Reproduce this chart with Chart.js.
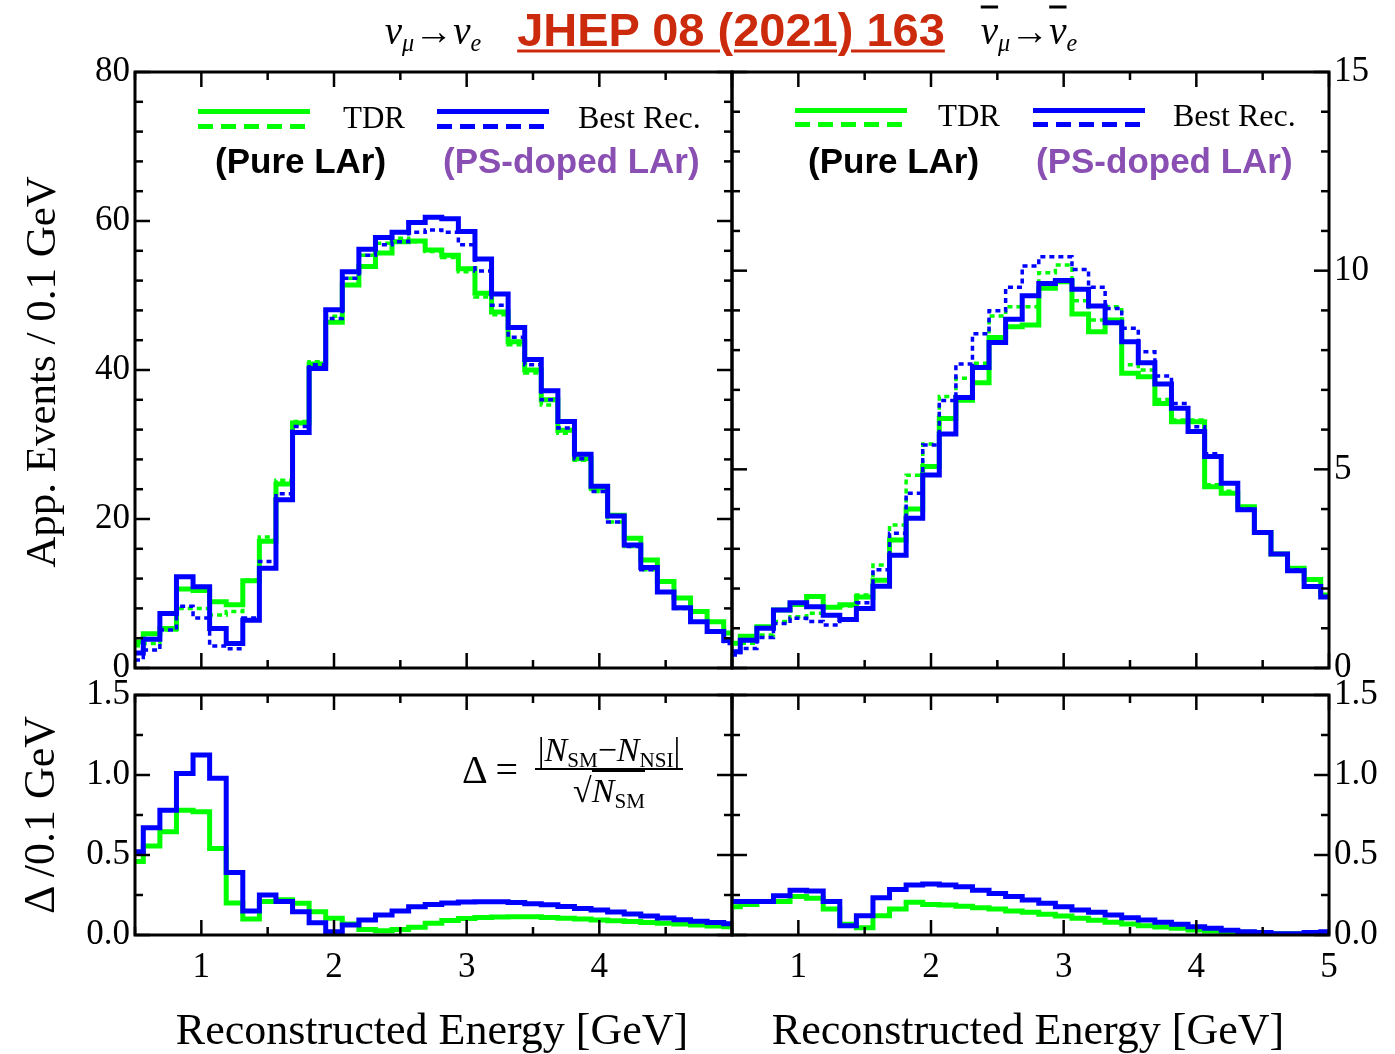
<!DOCTYPE html>
<html>
<head>
<meta charset="utf-8">
<script src="https://cdn.jsdelivr.net/npm/chart.js@4.4.1/dist/chart.umd.min.js"></script>
<style>
  body { margin: 0; background: #fff; }
  #wrap { position: relative; width: 1395px; height: 1054px; overflow: hidden; font-family: 'Liberation Serif', serif; color: #000; }
  canvas { position: absolute; left: 0; top: 0; }
  .t { position: absolute; white-space: nowrap; line-height: 1; }
  .mid { transform: translateY(-50%); }
  .ctr { transform: translate(-50%, -50%); }
  .rot { transform: translate(-50%, -50%) rotate(-90deg); }
  .bold { font-family: 'Liberation Sans', Arial, sans-serif; font-weight: bold; }
  .line { position: absolute; height: 5px; width: 112px; }
  sub { font-size: 0.62em; vertical-align: -0.3em; line-height: 0; }
</style>
</head>
<body>
<div id="wrap">
  <canvas id="nuTop" width="1395" height="1054"></canvas>
  <canvas id="nbTop" width="1395" height="1054"></canvas>
  <canvas id="nuBot" width="1395" height="1054"></canvas>
  <canvas id="nbBot" width="1395" height="1054"></canvas>

  <!-- header -->
  <div class="t ctr" style="left:433px;top:30px;font-size:39px;font-style:italic;">ν<sub>μ</sub>→ν<sub>e</sub></div>
  <div class="t ctr bold" style="left:731px;top:29px;font-size:47px;color:#cc2a0c;text-decoration:underline;text-decoration-thickness:3px;text-underline-offset:4px;">JHEP 08 (2021) 163</div>
  <div class="t ctr" style="left:1029px;top:30px;font-size:39px;font-style:italic;"><span style="text-decoration:overline">ν</span><sub>μ</sub>→<span style="text-decoration:overline">ν</span><sub>e</sub></div>

  <!-- legend, left -->
  <div class="line" style="left:198px;top:109px;background:#00ff00;"></div>
  <div class="line" style="left:198px;top:124px;background:repeating-linear-gradient(to right,#00ff00 0 15px,transparent 15px 23px);"></div>
  <div class="line" style="left:437px;top:109px;background:#0000ff;"></div>
  <div class="line" style="left:437px;top:124px;background:repeating-linear-gradient(to right,#0000ff 0 15px,transparent 15px 23px);"></div>
  <div class="t mid" style="left:343px;top:117px;font-size:31px;">TDR</div>
  <div class="t mid" style="left:578px;top:117px;font-size:32px;">Best Rec.</div>
  <div class="t mid bold" style="left:215px;top:160px;font-size:35px;">(Pure LAr)</div>
  <div class="t mid bold" style="left:443px;top:160px;font-size:35px;color:#8a4fb2;">(PS-doped LAr)</div>

  <!-- legend, right -->
  <div class="line" style="left:795px;top:108px;background:#00ff00;"></div>
  <div class="line" style="left:795px;top:122px;background:repeating-linear-gradient(to right,#00ff00 0 15px,transparent 15px 23px);"></div>
  <div class="line" style="left:1033px;top:108px;background:#0000ff;"></div>
  <div class="line" style="left:1033px;top:122px;background:repeating-linear-gradient(to right,#0000ff 0 15px,transparent 15px 23px);"></div>
  <div class="t mid" style="left:938px;top:115px;font-size:31px;">TDR</div>
  <div class="t mid" style="left:1173px;top:115px;font-size:32px;">Best Rec.</div>
  <div class="t mid bold" style="left:808px;top:160px;font-size:35px;">(Pure LAr)</div>
  <div class="t mid bold" style="left:1036px;top:160px;font-size:35px;color:#8a4fb2;">(PS-doped LAr)</div>

  <!-- formula -->
  <div class="t mid" style="left:462px;top:770px;font-size:40px;">Δ =</div>
  <div class="t" style="left:535px;top:733px;width:148px;font-size:34px;text-align:center;">
    <div style="padding-bottom:1px;">|<i>N</i><sub>SM</sub>−<i>N</i><sub>NSI</sub>|</div>
    <div style="border-top:2px solid #000;"></div>
    <div style="padding-top:4px;">√<span style="border-top:2px solid #000;"><i>N</i><sub>SM</sub></span></div>
  </div>

  <!-- axis titles -->
  <div class="t rot" style="left:40px;top:372px;font-size:43px;">App. Events / 0.1 GeV</div>
  <div class="t rot" style="left:40px;top:815px;font-size:44px;">Δ /0.1 GeV</div>
  <div class="t ctr" style="left:432px;top:1030px;font-size:44px;">Reconstructed Energy [GeV]</div>
  <div class="t ctr" style="left:1028px;top:1030px;font-size:44px;">Reconstructed Energy [GeV]</div>
</div>

<script>
// bin centres (GeV)
const energy = [0.5, 0.625, 0.75, 0.875, 1.0, 1.125, 1.25, 1.375, 1.5, 1.625,
  1.75, 1.875, 2.0, 2.125, 2.25, 2.375, 2.5, 2.625, 2.75, 2.875,
  3.0, 3.125, 3.25, 3.375, 3.5, 3.625, 3.75, 3.875, 4.0, 4.125,
  4.25, 4.375, 4.5, 4.625, 4.75, 4.875, 5.0];

// nu_mu -> nu_e, events / 0.1 GeV
const nuTdrSolid = [3.5, 4.6, 5.3, 10.6, 10.4, 8.9, 8.5, 11.7, 17.0, 24.7,
  32.9, 40.8, 46.4, 51.4, 53.9, 55.7, 57.2, 57.3, 56.1, 55.4,
  53.6, 50.3, 47.8, 43.8, 40.0, 36.0, 31.9, 28.1, 24.2, 20.5,
  17.4, 14.5, 11.6, 9.4, 7.6, 6.2, 4.7];
const nuTdrDash = [3.0, 3.3, 5.1, 8.0, 8.0, 7.1, 7.6, 11.8, 17.6, 25.2,
  33.1, 41.1, 47.2, 52.3, 55.4, 57.0, 57.7, 57.2, 55.9, 55.1,
  53.2, 49.8, 47.4, 43.4, 39.6, 35.3, 31.5, 27.9, 23.7, 19.6,
  16.3, 13.2, 10.2, 8.0, 6.2, 4.9, 3.8];
const nuBestSolid = [2.0, 3.85, 7.3, 12.25, 10.9, 5.3, 3.3, 6.4, 13.4, 22.6,
  31.6, 40.2, 48.1, 53.2, 56.2, 57.8, 58.5, 59.8, 60.5, 60.3,
  58.6, 54.9, 50.2, 45.7, 41.4, 37.2, 33.1, 28.7, 24.4, 20.4,
  16.5, 13.5, 10.2, 8.1, 6.2, 4.9, 3.7];
const nuBestDash = [1.07, 2.4, 5.1, 8.3, 6.7, 2.95, 2.6, 6.7, 14.3, 23.4,
  32.4, 40.7, 46.9, 52.3, 55.4, 56.8, 57.2, 58.5, 58.8, 58.5,
  56.8, 53.3, 48.7, 44.4, 40.7, 36.0, 32.2, 28.1, 23.7, 19.6,
  16.3, 13.2, 10.2, 8.0, 6.2, 4.9, 3.3];

// anti-nu_mu -> anti-nu_e
const nbTdrSolid = [0.62, 0.80, 1.04, 1.46, 1.6, 1.8, 1.53, 1.59, 1.79, 2.21,
  3.22, 4.0, 5.07, 6.28, 6.74, 7.18, 8.32, 8.59, 8.63, 9.56,
  9.72, 8.91, 8.46, 8.76, 7.42, 7.33, 6.66, 6.20, 6.20, 4.56,
  4.40, 4.06, 3.41, 2.87, 2.51, 2.23, 1.84];
const nbTdrDash = [0.62, 0.62, 0.83, 1.17, 1.29, 1.38, 1.54, 1.56, 1.84, 2.59,
  3.60, 4.85, 5.64, 6.83, 7.29, 7.67, 8.86, 9.09, 9.09, 9.95,
  10.14, 9.24, 8.76, 9.09, 7.63, 7.50, 6.76, 6.24, 6.24, 4.61,
  4.45, 4.06, 3.41, 2.87, 2.51, 2.23, 1.84];
const nbBestSolid = [0.41, 0.70, 1.0, 1.46, 1.64, 1.54, 1.33, 1.22, 1.50, 2.06,
  2.84, 3.77, 4.86, 5.89, 6.81, 7.56, 8.19, 8.78, 9.37, 9.68,
  9.75, 9.53, 9.11, 8.69, 8.21, 7.68, 7.15, 6.54, 5.95, 5.32,
  4.65, 3.98, 3.41, 2.87, 2.45, 2.05, 1.79];
const nbBestDash = [0.33, 0.49, 0.77, 1.12, 1.25, 1.17, 1.08, 1.21, 1.64, 2.47,
  3.39, 4.40, 5.61, 6.73, 7.65, 8.41, 8.99, 9.58, 10.12, 10.35,
  10.35, 10.03, 9.58, 9.05, 8.55, 7.96, 7.35, 6.66, 6.07, 5.39,
  4.66, 4.0, 3.43, 2.87, 2.47, 2.07, 1.79];

// Delta / 0.1 GeV
const dNuTdr = [0.46, 0.556, 0.646, 0.78, 0.77, 0.54, 0.20, 0.10, 0.21, 0.22,
  0.198, 0.146, 0.104, 0.069, 0.035, 0.027, 0.035, 0.048, 0.073, 0.09,
  0.103, 0.109, 0.112, 0.114, 0.114, 0.11, 0.105, 0.1, 0.094, 0.089,
  0.084, 0.078, 0.073, 0.068, 0.062, 0.057, 0.052];
const dNuBest = [0.52, 0.67, 0.78, 1.01, 1.125, 0.98, 0.39, 0.15, 0.25, 0.21,
  0.146, 0.077, 0.02, 0.0625, 0.094, 0.125, 0.15, 0.177, 0.19, 0.2,
  0.207, 0.208, 0.208, 0.203, 0.196, 0.189, 0.178, 0.166, 0.156, 0.143,
  0.131, 0.118, 0.107, 0.096, 0.086, 0.078, 0.07];
const dNbTdr = [0.177, 0.19, 0.21, 0.21, 0.24, 0.23, 0.163, 0.067, 0.046, 0.12,
  0.163, 0.204, 0.19, 0.1875, 0.18, 0.17, 0.163, 0.15, 0.142, 0.129,
  0.119, 0.104, 0.092, 0.079, 0.069, 0.058, 0.05, 0.042, 0.031, 0.025,
  0.021, 0.017, 0.0125, 0.008, 0.008, 0.008, 0.01];
const dNbBest = [0.21, 0.21, 0.21, 0.246, 0.28, 0.275, 0.21, 0.058, 0.12, 0.233,
  0.285, 0.3125, 0.319, 0.3125, 0.302, 0.28, 0.26, 0.24, 0.219, 0.198,
  0.177, 0.156, 0.142, 0.125, 0.108, 0.094, 0.079, 0.067, 0.052, 0.042,
  0.029, 0.021, 0.015, 0.008, 0.008, 0.015, 0.021];

// tick labels
const xLabelsLeft = [1, 2, 3, 4];
const xLabelsRight = [1, 2, 3, 4, 5];
const yLabelsNu = [0, 20, 40, 60, 80];
const yLabelsNb = [0, 5, 10, 15];
const yLabelsDelta = [0, 0.5, 1.0, 1.5];

const GREEN = '#00ff00', BLUE = '#0000ff';
const W = 1395, H = 1054;

function pts(vals) {
  return energy.map((e, i) => ({ x: e, y: vals[i] }));
}
function ds(vals, color, dashed) {
  return {
    data: pts(vals), borderColor: color,
    borderWidth: dashed ? 3.5 : 5, borderDash: dashed ? [5, 4] : [],
    stepped: 'middle', pointRadius: 0, fill: false, tension: 0
  };
}

// gnuplot-like frame with inward ticks on all four sides
const frameTicks = {
  id: 'frameTicks',
  afterDatasetsDraw(chart, args, o) {
    const { ctx, chartArea: a, scales: { x, y } } = chart;
    const seg = (x1, y1, x2, y2) => { ctx.beginPath(); ctx.moveTo(x1, y1); ctx.lineTo(x2, y2); ctx.stroke(); };
    const isMajor = (v, step) => Math.abs(v / step - Math.round(v / step)) < 1e-6;
    ctx.save();
    ctx.strokeStyle = '#000';
    ctx.lineWidth = 2.5;
    for (let v = x.min; v <= x.max + 1e-9; v += o.xMinor) {
      const px = x.getPixelForValue(v);
      const len = isMajor(v, o.xMajor) ? 15 : 8;
      seg(px, a.bottom, px, a.bottom - len);
      seg(px, a.top, px, a.top + len);
    }
    for (let v = y.min; v <= y.max + 1e-9; v += o.yMinor) {
      const py = y.getPixelForValue(v);
      const len = isMajor(v, o.yMajor) ? 15 : 8;
      seg(a.left, py, a.left + len, py);
      seg(a.right, py, a.right - len, py);
    }
    ctx.lineWidth = 3;
    ctx.strokeRect(a.left, a.top, a.right - a.left, a.bottom - a.top);
    ctx.restore();
  }
};

function panel(id, area, yAxis, xLabels, datasets, ticks) {
  const yW = 80;
  const xH = xLabels ? 70 : 0;
  const onRight = yAxis.side === 'right';
  const font = { family: "'Liberation Serif', serif", size: 35 };
  return new Chart(document.getElementById(id), {
    type: 'line',
    data: { datasets },
    options: {
      responsive: false,
      animation: false,
      events: [],
      layout: {
        autoPadding: false,
        padding: {
          left: onRight ? area.l : area.l - yW,
          right: onRight ? W - area.r - yW : W - area.r,
          top: area.t,
          bottom: H - area.b - xH
        }
      },
      plugins: { legend: { display: false }, tooltip: { enabled: false }, frameTicks: ticks },
      scales: {
        x: {
          type: 'linear', min: 0.5, max: 5,
          grid: { display: false, drawTicks: false, tickLength: 0 }, border: { display: false },
          ticks: { display: !!xLabels, padding: 12, maxRotation: 0, autoSkip: false, font, color: '#000' },
          afterBuildTicks: s => { s.ticks = (xLabels || []).map(v => ({ value: v })); },
          afterFit: s => { s.height = xH; }
        },
        y: {
          type: 'linear', position: yAxis.side, min: yAxis.min, max: yAxis.max,
          grid: { display: false, drawTicks: false, tickLength: 0 }, border: { display: false },
          ticks: { padding: 5, autoSkip: false, font, color: '#000', callback: yAxis.fmt },
          afterBuildTicks: s => { s.ticks = yAxis.labels.map(v => ({ value: v })); },
          afterFit: s => { s.width = yW; }
        }
      }
    },
    plugins: [frameTicks]
  });
}

const plain = v => String(v);
const oneDec = v => Number(v).toFixed(1);

panel('nuTop', { l: 135, r: 732, t: 72, b: 668 },
  { side: 'left', min: 0, max: 80, labels: yLabelsNu, fmt: plain }, null,
  [ds(nuBestDash, BLUE, true), ds(nuBestSolid, BLUE, false), ds(nuTdrDash, GREEN, true), ds(nuTdrSolid, GREEN, false)],
  { xMajor: 1, xMinor: 0.5, yMajor: 20, yMinor: 4 });

panel('nbTop', { l: 732, r: 1329, t: 72, b: 668 },
  { side: 'right', min: 0, max: 15, labels: yLabelsNb, fmt: plain }, null,
  [ds(nbBestDash, BLUE, true), ds(nbBestSolid, BLUE, false), ds(nbTdrDash, GREEN, true), ds(nbTdrSolid, GREEN, false)],
  { xMajor: 1, xMinor: 0.5, yMajor: 5, yMinor: 1 });

panel('nuBot', { l: 135, r: 732, t: 695, b: 935 },
  { side: 'left', min: 0, max: 1.5, labels: yLabelsDelta, fmt: oneDec }, xLabelsLeft,
  [ds(dNuBest, BLUE, false), ds(dNuTdr, GREEN, false)],
  { xMajor: 1, xMinor: 0.5, yMajor: 0.5, yMinor: 0.25 });

panel('nbBot', { l: 732, r: 1329, t: 695, b: 935 },
  { side: 'right', min: 0, max: 1.5, labels: yLabelsDelta, fmt: oneDec }, xLabelsRight,
  [ds(dNbBest, BLUE, false), ds(dNbTdr, GREEN, false)],
  { xMajor: 1, xMinor: 0.5, yMajor: 0.5, yMinor: 0.25 });
</script>
</body>
</html>
